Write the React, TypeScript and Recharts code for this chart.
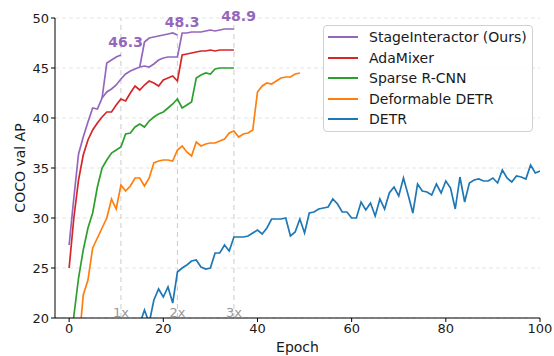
import React from "react"
import {
  LineChart,
  Line,
  XAxis,
  YAxis,
  CartesianGrid,
  ReferenceLine,
  ReferenceDot,
} from "recharts"

// COCO val AP per epoch
const stageMain = [
  27.3, 32.0, 36.4, 38.1, 39.6, 41.0, 40.9, 42.0, 42.6, 42.9, 43.3, 43.9,
  44.4, 44.7, 44.9, 45.1, 45.2, 45.1, 45.4, 45.8, 46.0, 46.1, 46.1, 46.1,
  48.5, 48.5, 48.6, 48.6, 48.6, 48.7, 48.8, 48.7, 48.8, 48.9, 48.9, 48.9,
]
const stage2xStart = 15
const stage2x = [45.1, 47.6, 48.0, 48.1, 48.2, 48.3, 48.4, 48.5, 48.3]
const stage1xStart = 7
const stage1x = [42.0, 45.5, 45.8, 46.1, 46.3]

const adaMixer = [
  25.0, 30.0, 33.8, 36.3, 37.8, 38.8, 39.5, 40.1, 40.6, 40.6, 41.3, 41.9,
  41.7, 42.5, 43.2, 42.8, 43.3, 43.7, 43.5, 43.2, 43.8, 44.0, 44.2, 43.7,
  46.3, 46.4, 46.5, 46.6, 46.7, 46.7, 46.8, 46.7, 46.8, 46.8, 46.8, 46.8,
]

const sparseRcnn = [
  13.0, 20.2, 24.0, 26.8, 29.0, 30.5, 33.1, 35.0, 35.8, 36.5, 36.8, 37.1,
  38.4, 38.5, 39.1, 39.4, 39.1, 39.7, 40.1, 40.4, 40.6, 41.0, 41.4, 41.9,
  41.0, 41.3, 41.6, 44.0, 44.3, 44.5, 44.4, 44.9, 45.0, 45.0, 45.0, 45.0,
]

const deformableDetr = [
  8.0, 12.0, 17.0, 22.3, 23.8, 27.0, 28.0, 29.0, 30.0, 31.9, 30.9, 33.3,
  32.7, 33.2, 34.0, 34.0, 33.2, 34.0, 35.5, 35.7, 35.8, 35.8, 35.7, 36.8,
  37.2, 36.6, 36.2, 37.6, 37.2, 37.4, 37.5, 37.5, 37.7, 37.9, 38.5, 38.7,
  38.1, 38.4, 38.5, 38.8, 42.6, 43.2, 43.5, 43.4, 43.7, 44.0, 44.1, 44.1,
  44.4, 44.5,
]

const detrStart = 15
const detr = [
  19.4, 20.8, 19.5, 21.8, 22.9, 22.1, 23.1, 21.5, 24.6, 25.0, 25.3, 25.7,
  25.8, 25.1, 24.9, 25.0, 26.5, 26.5, 27.3, 26.7, 28.1, 28.1, 28.1, 28.2,
  28.5, 28.8, 28.4, 29.0, 29.9, 29.9, 29.9, 30.0, 28.2, 28.6, 29.9, 28.5,
  30.5, 30.6, 30.9, 31.0, 31.1, 31.9, 31.4, 30.6, 30.6, 30.0, 30.0, 31.6,
  30.8, 31.5, 30.2, 31.9, 30.9, 32.5, 33.1, 32.2, 34.0, 32.3, 30.5, 33.4,
  32.7, 32.6, 32.3, 33.4, 32.5, 33.7, 33.0, 30.9, 34.1, 31.6, 33.5, 33.8,
  33.9, 33.7, 33.7, 34.0, 33.5, 34.8, 34.0, 33.6, 34.2, 34.1, 33.9, 35.3,
  34.5, 34.7,
]

const xTicks = [0, 20, 40, 60, 80, 100]
const yTicks = [20, 25, 30, 35, 40, 45, 50]
const scheduleEpochs = [11, 23, 35]
const scheduleLabels = ["1x", "2x", "3x"]
const finalAps = [46.3, 48.3, 48.9]

const PURPLE = "#9467bd"
const legendItems = [
  { name: "StageInteractor (Ours)", color: PURPLE },
  { name: "AdaMixer", color: "#d62728" },
  { name: "Sparse R-CNN", color: "#2ca02c" },
  { name: "Deformable DETR", color: "#ff7f0e" },
  { name: "DETR", color: "#1f77b4" },
]

const pick = (arr: number[], start: number, epoch: number) => {
  const v = arr[epoch - start]
  return v === undefined ? null : v
}

const data = Array.from({ length: 101 }, (_, epoch) => ({
  epoch,
  stage: pick(stageMain, 0, epoch),
  stage2x: pick(stage2x, stage2xStart, epoch),
  stage1x: pick(stage1x, stage1xStart, epoch),
  ada: pick(adaMixer, 0, epoch),
  sparse: pick(sparseRcnn, 0, epoch),
  deform: pick(deformableDetr, 0, epoch),
  detr: pick(detr, detrStart, epoch),
}))

const font = "'DejaVu Sans', sans-serif"
const LW = 1.7

function ChartLegend() {
  return (
    <div
      style={{
        position: "absolute",
        left: 323,
        top: 25,
        width: 210,
        height: 107,
        boxSizing: "border-box",
        border: "1px solid #d0d0d0",
        borderRadius: 4,
        background: "rgba(255,255,255,0.85)",
        padding: "1px 0 0 4px",
        fontFamily: font,
        fontSize: 14,
        color: "#1a1a1a",
      }}
    >
      {legendItems.map((it) => (
        <div key={it.name} style={{ display: "flex", alignItems: "center", height: 20.5 }}>
          <div style={{ width: 30, height: 2, background: it.color, marginRight: 11 }} />
          <span>{it.name}</span>
        </div>
      ))}
    </div>
  )
}

export default function App() {
  return (
    <div style={{ position: "relative", width: 554, height: 356, fontFamily: font, overflow: "hidden" }}>
      <style>{"body{margin:0;overflow:hidden}"}</style>
      <LineChart
        width={554}
        height={356}
        data={data}
        margin={{ top: 18, right: 14, bottom: 0, left: 8 }}
      >
        <CartesianGrid vertical={false} stroke="#e4e4e4" strokeDasharray="4 3" />
        <XAxis
          dataKey="epoch"
          type="number"
          domain={[-3, 100]}
          ticks={xTicks}
          allowDataOverflow
          height={38}
          tickSize={4}
          stroke="#000"
          tick={{ fontSize: 13, fill: "#1a1a1a" }}
          label={{ value: "Epoch", position: "insideBottom", offset: 4, fontSize: 14, fill: "#1a1a1a" }}
        />
        <YAxis
          domain={[20, 50]}
          ticks={yTicks}
          allowDataOverflow
          width={47}
          tickSize={4}
          stroke="#000"
          tick={{ fontSize: 13, fill: "#1a1a1a" }}
          label={{
            value: "COCO val AP",
            angle: -90,
            position: "insideLeft",
            offset: 12,
            fontSize: 14,
            fill: "#1a1a1a",
            style: { textAnchor: "middle" },
          }}
        />
        {scheduleEpochs.map((e, i) => (
          <ReferenceLine
            key={e}
            x={e}
            stroke="#cccccc"
            strokeDasharray="5 4"
            label={{ value: scheduleLabels[i], position: "insideBottom", offset: 1, fontSize: 13, fill: "#999" }}
          />
        ))}
        <Line type="linear" dataKey="detr" stroke="#1f77b4" strokeWidth={LW} dot={false} isAnimationActive={false} />
        <Line type="linear" dataKey="deform" stroke="#ff7f0e" strokeWidth={LW} dot={false} isAnimationActive={false} />
        <Line type="linear" dataKey="sparse" stroke="#2ca02c" strokeWidth={LW} dot={false} isAnimationActive={false} />
        <Line type="linear" dataKey="ada" stroke="#d62728" strokeWidth={LW} dot={false} isAnimationActive={false} />
        <Line type="linear" dataKey="stage1x" stroke={PURPLE} strokeWidth={LW} dot={false} isAnimationActive={false} />
        <Line type="linear" dataKey="stage2x" stroke={PURPLE} strokeWidth={LW} dot={false} isAnimationActive={false} />
        <Line type="linear" dataKey="stage" stroke={PURPLE} strokeWidth={LW} dot={false} isAnimationActive={false} />
        {scheduleEpochs.map((e, i) => (
          <ReferenceDot
            key={"ap" + e}
            x={e + 1}
            y={finalAps[i]}
            r={0}
            fill="none"
            stroke="none"
            label={{ value: finalAps[i].toFixed(1), position: "top", offset: 8, fontSize: 14, fontWeight: "bold", fill: PURPLE }}
          />
        ))}
      </LineChart>
      <ChartLegend />
    </div>
  )
}
